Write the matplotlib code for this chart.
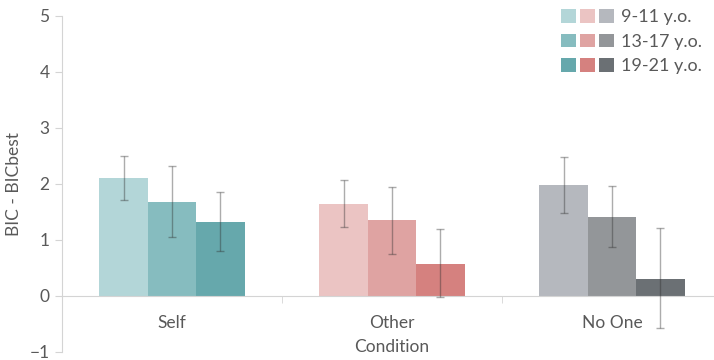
import matplotlib
matplotlib.use("Agg")
import matplotlib.pyplot as plt
import numpy as np
from matplotlib.patches import Patch
from matplotlib.legend_handler import HandlerTuple

plt.rcParams['font.family'] = ['Lato', 'DejaVu Sans']

conditions = ["Self", "Other", "No One"]
age_groups = ["9-11 y.o.", "13-17 y.o.", "19-21 y.o."]

# rows: condition, cols: age group
means = np.array([[2.10, 1.67, 1.33],
                  [1.65, 1.35, 0.58],
                  [1.98, 1.41, 0.30]])
lower = np.array([[1.72, 1.05, 0.80],
                  [1.23, 0.75, -0.02],
                  [1.48, 0.88, -0.58]])
upper = np.array([[2.50, 2.32, 1.86],
                  [2.07, 1.95, 1.20],
                  [2.49, 1.96, 1.21]])

colors = [["#b3d6d8", "#86bcbf", "#66a8ac"],
          ["#ebc4c3", "#dfa3a2", "#d5817f"],
          ["#b5b8be", "#939699", "#6b7074"]]

txt = "#595959"
axc = "#d4d4d4"

fig = plt.figure(figsize=(7.14, 3.6), dpi=100)
ax = fig.add_axes([62/714, 8/360, 660/714, 336/360])

w = 0.22
x = np.arange(len(conditions))
for i in range(len(conditions)):
    for j in range(len(age_groups)):
        xi = x[i] + (j - 1) * w
        ax.bar(xi, means[i, j], width=w, color=colors[i][j], linewidth=0, zorder=2)
        ax.errorbar(xi, means[i, j],
                    yerr=[[means[i, j] - lower[i, j]], [upper[i, j] - means[i, j]]],
                    fmt='none', ecolor='#303030', alpha=0.4, elinewidth=1,
                    capsize=3, capthick=1, zorder=3)

ax.set_xlim(-0.5, 2.5)
ax.set_ylim(-1, 5)
ax.set_yticks(range(-1, 6))

for s in ['top', 'right']:
    ax.spines[s].set_visible(False)
ax.spines['left'].set_color(axc)
ax.spines['bottom'].set_color(axc)
ax.spines['bottom'].set_position(('data', 0))

ax.set_xticks(x)
ax.set_xticklabels(conditions)
ax.set_xticks([-0.5, 0.5, 1.5, 2.5], minor=True)
ax.tick_params(axis='x', which='major', length=0, pad=14, labelsize=12.5, labelcolor=txt)
ax.tick_params(axis='x', which='minor', length=5, color=axc, direction='out')
ax.tick_params(axis='y', length=5, color=axc, pad=4, labelsize=12.5, labelcolor=txt)

ax.set_xlabel("Condition", fontsize=12.5, color=txt)
ax.xaxis.set_label_coords(0.5, 0.04)
ax.set_ylabel("BIC - BICbest", fontsize=12.5, color=txt, labelpad=5)

handles = [tuple(Patch(color=colors[i][j], linewidth=0) for i in range(3)) for j in range(3)]
leg = ax.legend(handles, age_groups, handler_map={tuple: HandlerTuple(ndivide=None, pad=0.22)},
                loc='upper right', bbox_to_anchor=(0.970, 1.02), frameon=False,
                fontsize=13, handlelength=2.93, handleheight=0.78, handletextpad=0.39,
                labelspacing=0.46, borderaxespad=0, borderpad=0)
for t in leg.get_texts():
    t.set_color(txt)

fig.savefig("out.png", dpi=100)
